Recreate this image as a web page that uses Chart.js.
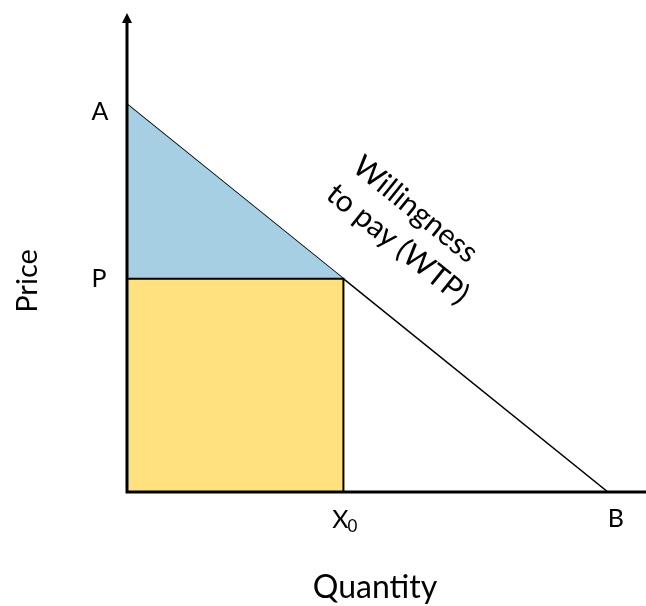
<!DOCTYPE html>
<html lang="en">
<head>
    <meta charset="UTF-8">
    <title>Willingness to pay</title>
    <style>
        html, body {
            margin: 0;
            padding: 0;
            background: #fff;
        }
        .wrap {
            width: 646px;
            height: 606px;
        }
    </style>
</head>
<body>
    <div class="wrap"><canvas id="wtpChart"></canvas></div>

    <script src="https://cdn.jsdelivr.net/npm/chart.js"></script>
    <script>
        // values
        const priceA = 10;      // intercept on the price axis
        const quantityB = 10;   // intercept on the quantity axis
        const quantityX0 = 4.5;
        const priceP = 5.5;
        const axisMax = { x: 10.75, y: 12.3 };
        const tickLabels = { A: 'A', P: 'P', X0: 'X', B: 'B' };
        const curveLabel = ['Willingness', 'to pay (WTP)'];

        const wtpLine = [{ x: 0, y: priceA }, { x: quantityB, y: 0 }];
        const surplus = [{ x: 0, y: priceA }, { x: quantityX0, y: priceP }];
        const spending = [{ x: 0, y: priceP }, { x: quantityX0, y: priceP }, { x: quantityX0, y: 0 }];

        const font = 'Lato, "Open Sans", sans-serif';

        // axes, arrow and labels are drawn on top
        const overlay = {
            id: 'overlay',
            afterDatasetsDraw(chart) {
                const c = chart.ctx;
                const xs = chart.scales.x, ys = chart.scales.y;
                const x0 = xs.getPixelForValue(0), y0 = ys.getPixelForValue(0);
                const top = chart.chartArea.top;
                c.save();
                c.strokeStyle = '#000';
                c.fillStyle = '#000';
                c.lineWidth = 3;
                c.beginPath();
                c.moveTo(x0, y0);
                c.lineTo(x0, top + 6);
                c.moveTo(x0 - 1.5, y0);
                c.lineTo(chart.width, y0);
                c.stroke();
                // arrow head
                c.beginPath();
                c.moveTo(x0, top - 2);
                c.lineTo(x0 - 5, top + 8);
                c.lineTo(x0 + 5, top + 8);
                c.closePath();
                c.fill();

                c.font = '25px ' + font;
                c.textAlign = 'center';
                c.textBaseline = 'middle';
                c.fillText(tickLabels.A, x0 - 27, ys.getPixelForValue(priceA) + 8);
                c.fillText(tickLabels.P, x0 - 28, ys.getPixelForValue(priceP));
                c.fillText(tickLabels.B, xs.getPixelForValue(quantityB) + 8, y0 + 27);
                const xx = xs.getPixelForValue(quantityX0);
                c.fillText(tickLabels.X0, xx - 3, y0 + 28);
                c.font = '17px ' + font;
                c.fillText('0', xx + 9, y0 + 35);

                c.font = '32px ' + font;
                c.fillText('Quantity', 375, 588);
                c.save();
                c.translate(28, 281);
                c.rotate(-Math.PI / 2);
                c.font = '29px ' + font;
                c.fillText('Price', 0, 0);
                c.restore();

                // curve label, parallel to the line
                const ang = Math.atan2(ys.getPixelForValue(0) - ys.getPixelForValue(priceA),
                    xs.getPixelForValue(quantityB) - xs.getPixelForValue(0));
                c.font = '30px ' + font;
                c.translate(406, 229);
                c.rotate(ang);
                c.fillText(curveLabel[0], -5, -21);
                c.fillText(curveLabel[1], 3, 17);
                c.restore();
            }
        };

        new Chart(document.getElementById('wtpChart'), {
            type: 'scatter',
            data: {
                datasets: [
                    {
                        data: spending,
                        showLine: true,
                        fill: 'origin',
                        backgroundColor: '#ffe180',
                        borderColor: '#000',
                        borderWidth: 2,
                        pointRadius: 0,
                        tension: 0
                    },
                    {
                        data: surplus,
                        showLine: true,
                        fill: { value: priceP },
                        backgroundColor: '#a6cfe3',
                        borderWidth: 0,
                        pointRadius: 0
                    },
                    {
                        data: wtpLine,
                        showLine: true,
                        fill: false,
                        borderColor: '#000',
                        borderWidth: 1.5,
                        pointRadius: 0
                    }
                ]
            },
            options: {
                responsive: true,
                maintainAspectRatio: false,
                animation: false,
                devicePixelRatio: 1,
                layout: { padding: { left: 127, right: 2, top: 15, bottom: 114 } },
                plugins: {
                    legend: { display: false },
                    tooltip: { enabled: false }
                },
                scales: {
                    x: { type: 'linear', min: 0, max: axisMax.x, display: false },
                    y: { type: 'linear', min: 0, max: axisMax.y, display: false }
                }
            },
            plugins: [overlay]
        });
    </script>
</body>
</html>
